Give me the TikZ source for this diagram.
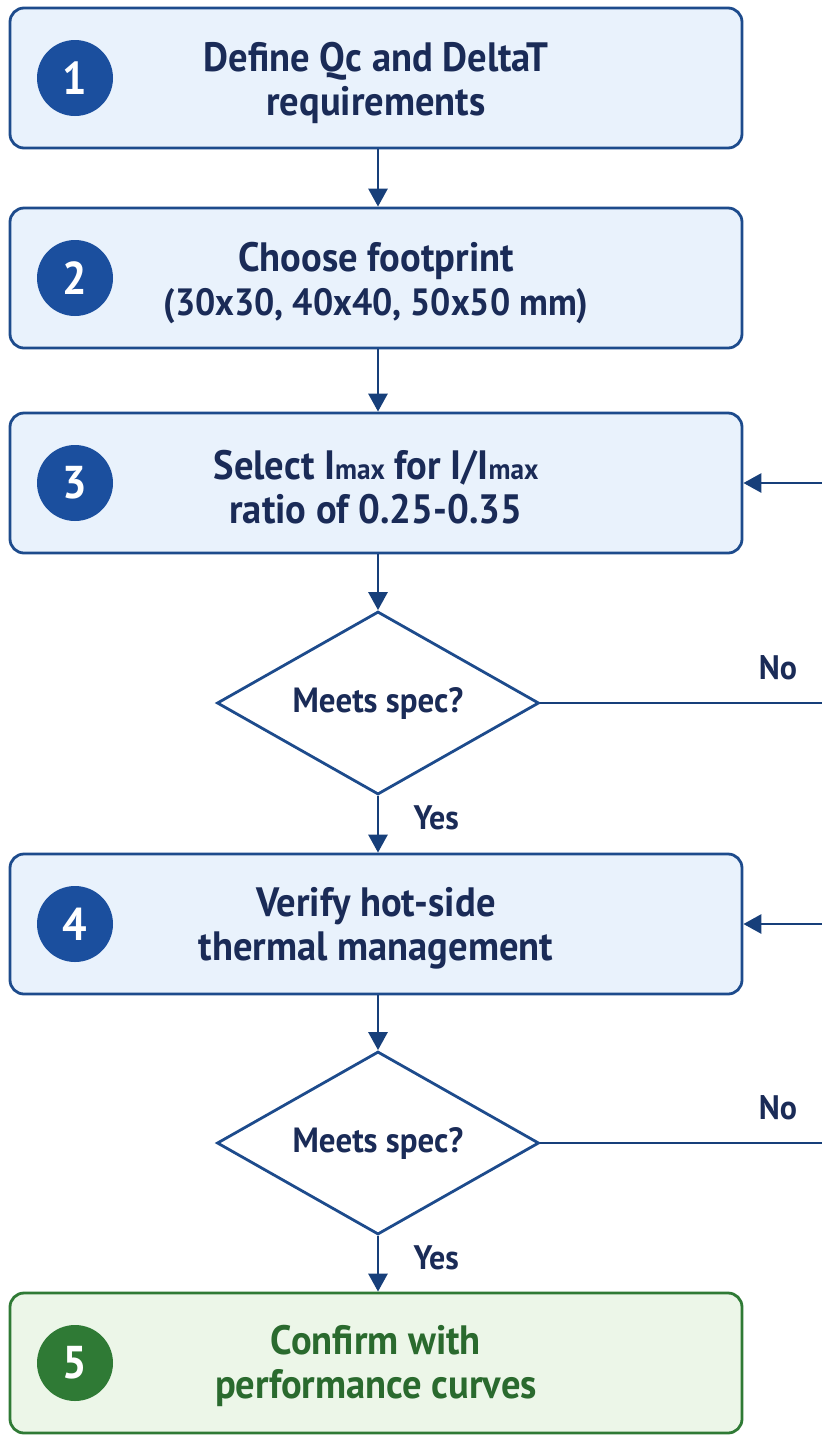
\documentclass[tikz,border=0pt]{standalone}
\usepackage{fontspec}
\setmainfont{PT Sans}[FakeStretch=0.94]
\usetikzlibrary{shapes.geometric,arrows.meta}
\definecolor{boxfill}{HTML}{E9F2FC}
\definecolor{boxline}{HTML}{1D4B8C}
\definecolor{circblue}{HTML}{1B4F9E}
\definecolor{navy}{HTML}{1A2B57}
\definecolor{grfill}{HTML}{ECF6E8}
\definecolor{grline}{HTML}{2F7A35}
\definecolor{grtext}{HTML}{2A6A2E}
\definecolor{arrowc}{HTML}{173F7A}
\tikzset{
  stepbox/.style={draw=boxline, fill=boxfill, line width=2.8pt, rounded corners=14pt,
    minimum width=732pt, minimum height=140pt},
  greenbox/.style={stepbox, draw=grline, fill=grfill},
  boxtext/.style={text=navy, align=center, inner sep=0pt,
    font=\fontsize{41}{44}\selectfont\bfseries},
  greentext/.style={boxtext, text=grtext},
  numcirc/.style={circle, fill=circblue, text=white, minimum size=76pt, inner sep=0pt,
    font=\fontsize{46}{46}\selectfont\bfseries},
  greencirc/.style={numcirc, fill=grline},
  decision/.style={diamond, draw=boxline, fill=white, line width=2.8pt, aspect=1.76,
    minimum width=322pt, minimum height=183pt, inner sep=0pt, text=navy,
    font=\fontsize{35}{38}\selectfont\bfseries},
  flow/.style={draw=arrowc, line width=2.8pt, -{Triangle[length=18pt,width=19pt]}},
  lbl/.style={text=navy, font=\fontsize{34}{38}\selectfont\bfseries},
}
\newcommand{\smx}{{\fontsize{29}{32}\selectfont max}}
\begin{document}
\begin{tikzpicture}[x=1pt,y=-1pt]
\useasboundingbox (0,0) rectangle (822,1436);
\fill[white] (0,0) rectangle (822,1436);

\node[stepbox] (b1) at (376,78) {};
\node[stepbox] (b2) at (376,278) {};
\node[stepbox] (b3) at (376,483) {};
\node[decision] (d1) at (378,703) {Meets spec?};
\node[stepbox] (b4) at (376,924) {};
\node[decision] (d2) at (378,1143) {Meets spec?};
\node[greenbox] (b5) at (376,1363) {};

\node[boxtext] (t1) at ([yshift=-5pt]b1.center) {Define Qc and DeltaT\\requirements};
\node[boxtext] (t2) at ([yshift=-5pt]b2.center) {Choose footprint\\{\fontsize{38}{44}\selectfont (30x30, 40x40, 50x50 mm)}};
\node[boxtext] (t3) at ([yshift=-4pt]b3.center) {Select I\smx{} for I/I\smx\\ratio of 0.25-0.35};
\node[boxtext] (t4) at ([yshift=-4pt]b4.center) {Verify hot-side\\thermal management};
\node[greentext] (t5) at ([yshift=-3pt]b5.center) {Confirm with\\performance curves};

\node[numcirc] (n1) at (75,78) {1};
\node[numcirc] (n2) at (75,278) {2};
\node[numcirc] (n3) at (75,483) {3};
\node[numcirc] (n4) at (75,924) {4};
\node[greencirc] (n5) at (75,1363) {5};

\draw[flow] (b1.south -| 378,0) -- (b2.north -| 378,0);
\draw[flow] (b2.south -| 378,0) -- (b3.north -| 378,0);
\draw[flow] (b3.south -| 378,0) -- (d1.north);
\draw[flow] (d1.south) -- (b4.north -| 378,0);
\draw[flow] (b4.south -| 378,0) -- (d2.north);
\draw[flow] (d2.south) -- (b5.north -| 378,0);

\node[lbl, anchor=west] (y1) at (410,818) {Yes};
\node[lbl, anchor=west] (y2) at (410,1258) {Yes};
\node[lbl] (no1) at (778,668) {No};
\node[lbl] (no2) at (778,1108) {No};

\coordinate (loop1) at (870,703);
\coordinate (loop2) at (870,1143);
\begin{scope}
\clip (0,0) rectangle (822,1436);
\draw[flow] (d1.east) -- (loop1) |- (b3.east);
\draw[flow] (d2.east) -- (loop2) |- (b4.east);
\end{scope}
\end{tikzpicture}
\end{document}
